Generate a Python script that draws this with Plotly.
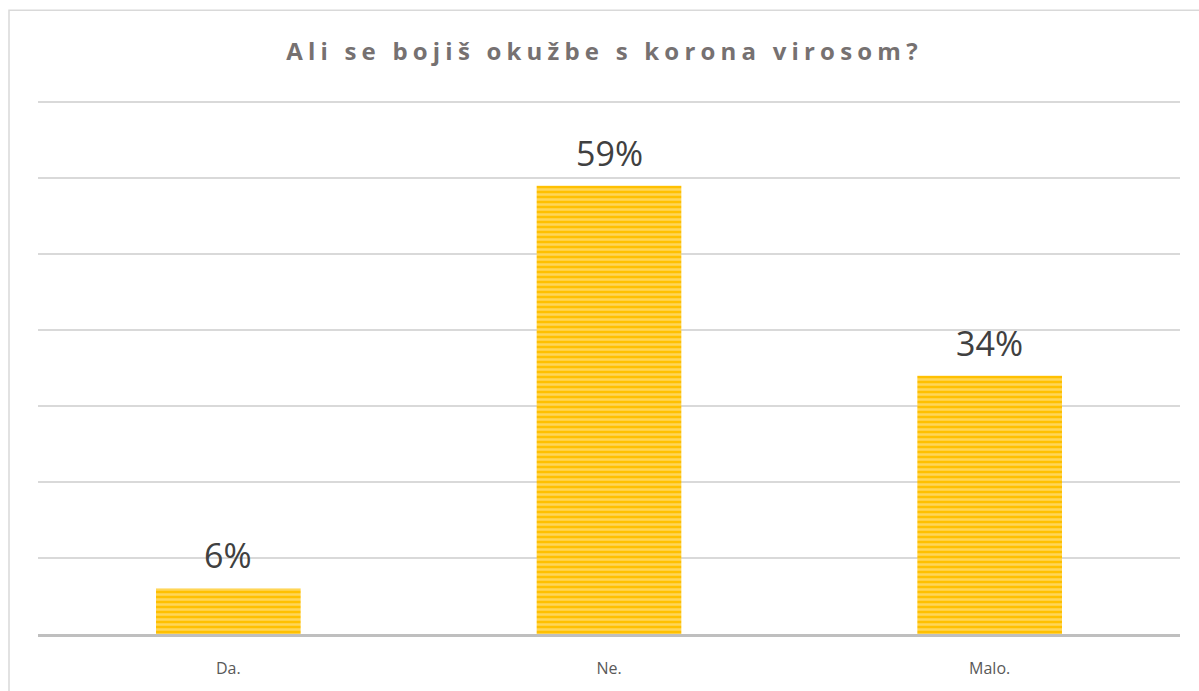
import plotly.graph_objects as go

categories = ["Da.", "Ne.", "Malo."]
values = [6, 59, 34]
labels = ["6%", "59%", "34%"]
title_text = "Ali se bojiš okužbe s korona virosom?"

W, H = 1199, 691
ml, mr, mt, mb = 38, 19, 87, 55

fig = go.Figure()
fig.add_trace(go.Bar(
    x=categories, y=values,
    marker=dict(
        color="#FFC000",
        line=dict(width=0),
        pattern=dict(shape="-", fgcolor="#FFEBAD", bgcolor="#FFC000", size=5, solidity=0.5),
    ),
    hoverinfo="skip",
))

for c, v, t in zip(categories, values, labels):
    fig.add_annotation(x=c, y=v, text=t, showarrow=False, yanchor="bottom", yshift=8,
                       font=dict(family="Open Sans", size=34, color="#404040"))

# outer chart border (left/top visible)
px = lambda p: (p - ml) / (W - ml - mr)
py = lambda p: (H - mb - p) / (H - mt - mb)
fig.add_shape(type="rect", xref="paper", yref="paper",
              x0=px(9), x1=px(1260), y0=py(760), y1=py(10),
              line=dict(color="#D9D9D9", width=1.5), layer="below")

fig.update_layout(
    width=W, height=H,
    margin=dict(l=ml, r=mr, t=mt, b=mb),
    paper_bgcolor="white", plot_bgcolor="white",
    bargap=0.62,
    showlegend=False,
    title=dict(text=title_text, x=0.5, xanchor="center", y=1 - 52 / H, yanchor="middle",
               font=dict(family="Open Sans", size=24, color="#767171", weight="bold")),
    xaxis=dict(showgrid=False, showline=True, linecolor="#BFBFBF", linewidth=2.5,
               ticks="", ticklabelstandoff=18,
               tickfont=dict(family="Open Sans", size=16, color="#595959")),
    yaxis=dict(range=[0, 72], tickvals=[10, 20, 30, 40, 50, 60, 70], showgrid=True,
               gridcolor="#D9D9D9", gridwidth=1.5,
               showticklabels=False, zeroline=False, showline=False, fixedrange=True),
)

fig.write_html(
    "out.html",
    config={"displayModeBar": False},
    post_script=(
        "document.body.style.margin='0';"
        "document.querySelectorAll('.gtitle').forEach(function(e){"
        "e.style.letterSpacing='5.2px';"
        "e.setAttribute('transform','translate(5,0)');});"
    ),
)
